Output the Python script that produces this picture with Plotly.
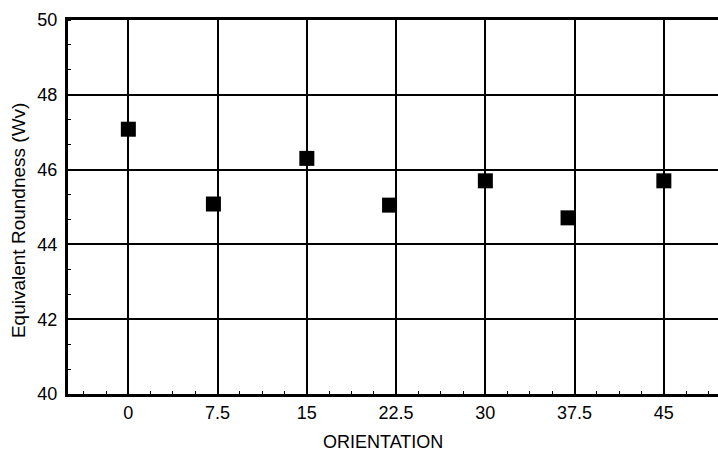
import plotly.graph_objects as go

orientation = [0, 7.15, 15, 21.95, 30, 36.95, 45]
roundness = [47.08, 45.08, 46.3, 45.05, 45.7, 44.71, 45.7]
x_ticks = [0, 7.5, 15, 22.5, 30, 37.5, 45]
x_tick_labels = ["0", "7.5", "15", "22.5", "30", "37.5", "45"]
y_ticks = [40, 42, 44, 46, 48, 50]

fig = go.Figure()
fig.add_trace(go.Scatter(
    x=orientation, y=roundness, mode="markers",
    marker=dict(symbol="square", size=15, color="black"),
    showlegend=False, cliponaxis=False, hoverinfo="skip",
))

fam = "Liberation Sans, Arial, sans-serif"
tickfont = dict(family=fam, size=18, color="black")

fig.update_layout(
    width=718, height=453,
    margin=dict(l=68, r=0, t=20, b=59),
    paper_bgcolor="white", plot_bgcolor="white",
    font=dict(family=fam, size=16, color="black"),
    xaxis=dict(
        range=[-5.07, 49.55],
        tickvals=x_ticks, ticktext=x_tick_labels, tickfont=tickfont,
        showgrid=True, gridcolor="black", gridwidth=2,
        showline=True, linecolor="black", linewidth=3, mirror=True,
        ticks="", zeroline=False, automargin=False,
        minor=dict(dtick=1.875, tick0=0, ticks="inside", ticklen=3, tickcolor="black", showgrid=False),
    ),
    yaxis=dict(
        range=[40, 50],
        tickvals=y_ticks, tickfont=tickfont,
        showgrid=True, gridcolor="black", gridwidth=2,
        showline=True, linecolor="black", linewidth=3, mirror=False,
        ticks="", zeroline=False, automargin=False,
        ticklabelstandoff=4,
        minor=dict(dtick=2/3, tick0=40, ticks="inside", ticklen=3, tickcolor="black", showgrid=False),
    ),
    annotations=[
        dict(text="ORIENTATION", xref="paper", yref="paper", x=0.485, y=0,
             yshift=-48, showarrow=False, xanchor="center", yanchor="middle",
             font=dict(family=fam, size=18, color="black")),
        dict(text="Equivalent Roundness (Wv)", xref="paper", yref="paper", x=0, y=0.465,
             xshift=-50, showarrow=False, textangle=-90, xanchor="center", yanchor="middle",
             font=dict(family=fam, size=19, color="black")),
    ],
)

fig.write_html("out.html", config={"displayModeBar": False},
               post_script="document.body.style.margin='0';document.body.style.padding='0';")
